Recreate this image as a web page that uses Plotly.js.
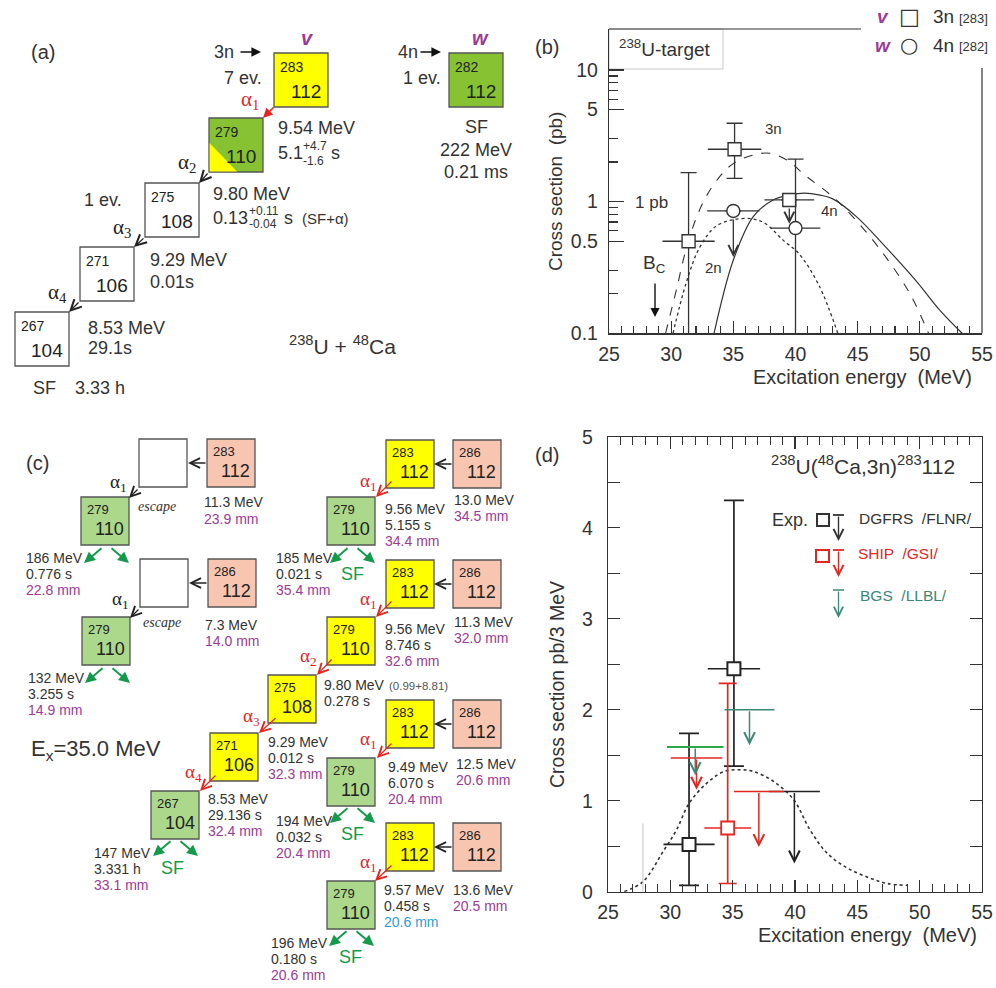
<!DOCTYPE html>
<html><head><meta charset="utf-8">
<script src="https://cdn.plot.ly/plotly-3.0.1.min.js"></script>
<style>html,body{margin:0;padding:0;background:#fff}#plot{width:996px;height:988px}</style>
</head><body><div id="plot"></div>
<script>
// ================= DATA =================
// ---- Panel (b): 238U + 48Ca excitation functions (cross section, pb) ----
const bTickVals = [0.1, 0.5, 1, 5, 10];
const bTickText = ['0.1', '0.5', '1', '5', '10'];
const bMinorVals = [0.2, 0.3, 0.6, 0.7, 0.8, 0.9, 2, 3, 6, 7, 8, 9];
// 3n channel [283] (squares)
const b3nEx = [31.4, 35.1, 39.5];
const b3nSig = [0.50, 2.50, 1.03];
const b3nExErr = [2.1, 2.15, 2.0];
const b3nSigUp = [1.16, 1.44, 0];
const b3nSigDown = [0.47, 1.00, 0];
// 4n channel [282] (circles)
const b4nEx = [35.0, 40.0];
const b4nSig = [0.85, 0.63];
const b4nExErr = [2.1, 2.0];
const b4nSigUp = [0, 1.47];
const b4nSigDown = [0, 0.60];
// upper-limit arrows in (b)
const bLimEx = [35.0, 39.5];
const bLimFrom = [0.85, 1.03];
const bLimTo = [0.38, 0.68];
// Coulomb barrier marker
const bBcEx = [28.7];
const bBcFrom = [0.245];
const bBcTo = [0.133];
// calculated excitation functions
const bCalc2nEx  = [30.15, 31.2, 32.3, 33.6, 35.0, 36.5, 37.6, 39.0, 40.3, 41.9, 43.4];
const bCalc2nSig = [0.10, 0.24, 0.45, 0.65, 0.73, 0.74, 0.68, 0.51, 0.40, 0.23, 0.10];
const bCalc3nEx  = [29.55, 30.4, 31.4, 32.6, 33.9, 35.05, 36.6, 37.9, 39.3, 40.9, 43.0, 44.6, 47.0, 49.2, 50.7];
const bCalc3nSig = [0.10, 0.21, 0.51, 1.00, 1.55, 1.96, 2.26, 2.33, 2.07, 1.55, 1.09, 0.77, 0.41, 0.20, 0.10];
const bCalc4nEx  = [33.45, 35.0, 36.6, 38.2, 39.5, 40.7, 42.0, 43.0, 44.9, 47.0, 49.7, 51.6, 53.4];
const bCalc4nSig = [0.10, 0.36, 0.77, 1.03, 1.12, 1.16, 1.12, 1.05, 0.77, 0.48, 0.25, 0.15, 0.10];

// ---- Panel (d): 238U(48Ca,3n)283112, pb / 3 MeV ----
const dDgfrsEx = [31.5, 35.1];
const dDgfrsSig = [0.52, 2.45];
const dDgfrsExErr = [2.05, 2.1];
const dDgfrsSigUp = [1.22, 1.85];
const dDgfrsSigDown = [0.45, 1.07];
const dDgfrsLimEx = [39.95];
const dDgfrsLimSig = [1.10];
const dDgfrsLimExErr = [2.05];
const dDgfrsLimTo = [0.31];
const dShipEx = [34.6];
const dShipSig = [0.70];
const dShipExErr = [1.87];
const dShipSigUp = [1.59];
const dShipSigDown = [0.61];
const dShipLimEx = [32.1, 37.1];
const dShipLimSig = [1.47, 1.10];
const dShipLimExErr = [2.07, 2.0];
const dShipLimTo = [1.12, 0.49];
const dBgsLimEx = [32.0, 36.35];
const dBgsLimSig = [1.59, 2.0];
const dBgsLimExErr = [2.27, 2.0];
const dBgsLimTo = [1.28, 1.61];
const dCalcEx  = [26.3, 27.8, 29.5, 30.5, 31.5, 32.9, 34.3, 35.6, 36.7, 38.3, 39.9, 41.2, 42.6, 44.2, 46.0, 47.4, 49.0];
const dCalcSig = [0.0, 0.11, 0.46, 0.68, 0.97, 1.19, 1.32, 1.34, 1.32, 1.21, 1.01, 0.68, 0.42, 0.26, 0.15, 0.09, 0.07];
const dGreyMarkEx = [27.8];
const dGreyMarkTop = [0.75];

// ---- Panel (a) decay chain text ----
const aMass = ['283', '279', '275', '271', '267', '282'];
const aZ = ['112', '110', '108', '106', '104', '112'];
const aEnergy = ['9.54 MeV', '9.80 MeV', '9.29 MeV', '8.53 MeV'];

// ---- Panel (c) decay chain text ----
const cEnergy = ['9.56 MeV', '9.56 MeV', '9.80 MeV', '9.29 MeV', '8.53 MeV', '9.49 MeV', '9.57 MeV'];
const cTime = ['5.155 s', '8.746 s', '0.278 s', '0.012 s', '29.136 s', '6.070 s', '0.458 s'];
const cRange = ['34.4 mm', '32.6 mm', '', '32.3 mm', '32.4 mm', '20.4 mm', '20.6 mm'];
const cEvrEnergy = ['11.3 MeV', '7.3 MeV', '13.0 MeV', '11.3 MeV', '12.5 MeV', '13.6 MeV'];
const cEvrRange = ['23.9 mm', '14.0 mm', '34.5 mm', '32.0 mm', '20.6 mm', '20.5 mm'];
const cSfEnergy = ['186 MeV', '132 MeV', '185 MeV', '147 MeV', '194 MeV', '196 MeV'];
const cSfTime = ['0.776 s', '3.255 s', '0.021 s', '3.331 h', '0.032 s', '0.180 s'];
const cSfRange = ['22.8 mm', '14.9 mm', '35.4 mm', '33.1 mm', '20.4 mm', '20.6 mm'];

// ================= STYLE =================
const FONT = 'Liberation Sans, Arial, sans-serif';
const SERIF = 'Liberation Serif, Times New Roman, serif';
const INK = '#333333';
const PURPLE = '#9c3a98';
const RED = '#e3261f';
const GARROW = '#149a4a';
const TEAL = '#3b8878';
const BGSGREEN = '#2ea84a';
const BLUE = '#2a9de0';
const YEL = '#ffff00';
const GRN_A = '#86c232';
const GRN_C = '#acd88c';
const PINK = '#f8c6b0';
const TA = 18;   // panel (a) text size
const TC = 14;   // panel (c) text size

const W = 996, H = 988;
const px = x => x / W, py = y => 1 - y / H;
const ann = [], shp = [];

function txt(x, y, t, size, opt) {
  const o = Object.assign({xref: 'paper', yref: 'paper', x: px(x), y: py(y), text: t, showarrow: false,
    xanchor: 'left', yanchor: 'middle', borderpad: 0,
    font: {family: FONT, size: size || 13, color: INK}}, opt || {});
  if (opt && opt.color) { o.font.color = opt.color; delete o.color; }
  if (opt && opt.family) { o.font.family = opt.family; delete o.family; }
  ann.push(o);
}
function arrow(x1, y1, x2, y2, color, head, size, width) {
  ann.push({xref: 'paper', yref: 'paper', x: px(x2), y: py(y2), ax: x1 - x2, ay: y1 - y2,
    text: '', showarrow: true, arrowhead: head, arrowsize: size, arrowwidth: width,
    arrowcolor: color, standoff: 0});
}
function rect(x0, y0, x1, y1, fill, line, lw) {
  shp.push({type: 'rect', xref: 'paper', yref: 'paper', x0: px(x0), x1: px(x1), y0: py(y1), y1: py(y0),
    fillcolor: fill, line: {color: line, width: lw}, layer: 'below'});
}
function line(x0, y0, x1, y1, color, w) {
  shp.push({type: 'line', xref: 'paper', yref: 'paper', x0: px(x0), x1: px(x1), y0: py(y0), y1: py(y1),
    line: {color: color, width: w}});
}
function nuclide(x, y, s, fill, mass, z, mSize, zSize, mDy, zDy) {
  rect(x, y, x + s, y + s, fill, '#555', 1.3);
  if (mass) txt(x + 5, y + s * mDy, mass, mSize, {color: '#222'});
  if (z) txt(x + s * 0.6, y + s * zDy, z, zSize, {xanchor: 'center', color: '#222'});
}
const nucA = (x, y, fill, m, z) => nuclide(x, y, 54, fill, m, z, 14, 19, 0.26, 0.72);
const nucC = (x, y, fill, m, z) => nuclide(x, y, 48, fill, m, z, 13, 18, 0.25, 0.66);
const alpha = (x, y, i, color, s) => txt(x, y, 'α<sub>' + i + '</sub>', s || 21, {xanchor: 'center', color: color, family: SERIF});

// ================= PANEL (a) =================
txt(43, 52, '(a)', 20, {xanchor: 'center'});
txt(213, 52, '3n', TA); arrow(239, 52, 261, 52, '#111', 2, 1.2, 1.6);
txt(243, 78, '7 ev.', TA, {xanchor: 'center'});
txt(307, 38, '<b><i>v</i></b>', 20, {xanchor: 'center', color: PURPLE});
nucA(274, 53, YEL, aMass[0], aZ[0]);
alpha(250, 100, 1, RED); arrow(275, 106, 263, 118, RED, 2, 1.2, 1.6);
// 279/110 box with yellow corner
rect(209, 118, 263, 172, GRN_A, '#555', 1.3);
shp.push({type: 'path', xref: 'paper', yref: 'paper', layer: 'below',
  path: `M ${px(209.6)} ${py(143)} L ${px(209.6)} ${py(171.4)} L ${px(237)} ${py(171.4)} Z`,
  fillcolor: YEL, line: {width: 0}});
txt(214, 132, aMass[1], 14, {color: '#222'});
txt(241, 157, aZ[1], 19, {xanchor: 'center', color: '#222'});
txt(277, 128, aEnergy[0], TA);
txt(277, 153, '5.1', TA); txt(302, 146, '+4.7', 12); txt(302, 161, '-1.6', 12); txt(330, 153, 's', TA);
alpha(187, 163, 2, '#222'); arrow(209, 172, 199, 183, '#222', 5, 1.6, 1.3);
nucA(145, 183, '#ffffff', aMass[2], aZ[2]);
txt(103, 200, '1 ev.', TA, {xanchor: 'center'});
txt(212, 194, aEnergy[1], TA);
txt(212, 218, '0.13', TA); txt(248, 211, '+0.11', 12); txt(248, 224, '-0.04', 12);
txt(283, 218, 's', TA); txt(301, 218, '(SF+α)', 15);
alpha(122, 228, 3, '#222'); arrow(145, 237, 134, 247, '#222', 5, 1.6, 1.3);
nucA(80, 247, '#ffffff', aMass[3], aZ[3]);
txt(149, 260, aEnergy[2], TA); txt(149, 282, '0.01s', TA);
alpha(57, 293, 4, '#222'); arrow(80, 301, 69, 312, '#222', 5, 1.6, 1.3);
nucA(15, 312, '#ffffff', aMass[4], aZ[4]);
txt(87, 328, aEnergy[3], TA); txt(87, 348, '29.1s', TA);
txt(32, 388, 'SF', TA); txt(74, 388, '3.33 h', TA);
txt(342, 345, '<sup>238</sup>U + <sup>48</sup>Ca', 21, {xanchor: 'center'});
txt(397, 52, '4n', TA); arrow(419, 52, 441, 52, '#111', 2, 1.2, 1.6);
txt(422, 78, '1 ev.', TA, {xanchor: 'center'});
txt(480, 38, '<b><i>w</i></b>', 20, {xanchor: 'center', color: PURPLE});
nucA(449, 53, GRN_A, aMass[5], aZ[5]);
txt(476, 127, 'SF', TA, {xanchor: 'center'});
txt(476, 150, '222 MeV', TA, {xanchor: 'center'});
txt(476, 172, '0.21 ms', TA, {xanchor: 'center'});

// ================= PANEL (c) =================
txt(37, 463, '(c)', 20, {xanchor: 'center'});
function sfArrows(cx, y, color) {
  arrow(cx - 3, y, cx - 22, y + 16, color, 2, 1.1, 2);
  arrow(cx + 4, y, cx + 23, y + 16, color, 2, 1.1, 2);
}
function three(x, y, a, b, c, cColor) {
  txt(x, y, a, TC); txt(x, y + 16, b, TC);
  if (c) txt(x, y + 32, c, TC, {color: cColor || PURPLE});
}
// left escape chains
nucC(139, 439, '#ffffff', '', '');
nucC(207, 439, PINK, '283', '112');
arrow(207, 463, 188, 463, '#222', 5, 1.5, 1.3);
alpha(118, 483, 1, '#222', 19); arrow(139, 488, 129, 498, '#222', 5, 1.5, 1.3);
nucC(81, 497, GRN_C, '279', '110');
txt(157, 506, '<i>escape</i>', 14, {xanchor: 'center', family: SERIF});
txt(203, 502, cEvrEnergy[0], TC); txt(203, 519, cEvrRange[0], TC, {color: PURPLE});
sfArrows(106, 547, GARROW);
three(25, 558, cSfEnergy[0], cSfTime[0], cSfRange[0]);

nucC(140, 559, '#ffffff', '', '');
nucC(208, 559, PINK, '286', '112');
arrow(208, 583, 189, 583, '#222', 5, 1.5, 1.3);
alpha(120, 600, 1, '#222', 19); arrow(140, 608, 130, 618, '#222', 5, 1.5, 1.3);
nucC(82, 617, GRN_C, '279', '110');
txt(162, 622, '<i>escape</i>', 14, {xanchor: 'center', family: SERIF});
txt(204, 625, cEvrEnergy[1], TC); txt(204, 641, cEvrRange[1], TC, {color: PURPLE});
sfArrows(107, 667, GARROW);
three(27, 678, cSfEnergy[1], cSfTime[1], cSfRange[1]);

txt(30, 750, 'E<sub>x</sub>=35.0 MeV', 22);

// main chain 1
nucC(386, 440, YEL, '283', '112');
nucC(453, 440, PINK, '286', '112');
arrow(453, 464, 434, 464, '#222', 5, 1.5, 1.3);
txt(453, 500, cEvrEnergy[2], TC); txt(453, 516, cEvrRange[2], TC, {color: PURPLE});
alpha(368, 482, 1, RED, 19); arrow(393, 480, 376, 497, RED, 5, 1.5, 1.3);
nucC(327, 497, GRN_C, '279', '110');
three(384, 509, cEnergy[0], cTime[0], cRange[0]);
sfArrows(352, 547, GARROW);
txt(352, 574, 'SF', 18, {xanchor: 'center', color: GARROW});
three(275, 558, cSfEnergy[2], cSfTime[2], cSfRange[2]);

// main chain 2 (full chain)
nucC(386, 560, YEL, '283', '112');
nucC(453, 560, PINK, '286', '112');
arrow(453, 584, 434, 584, '#222', 5, 1.5, 1.3);
txt(453, 622, cEvrEnergy[3], TC); txt(453, 638, cEvrRange[3], TC, {color: PURPLE});
alpha(368, 600, 1, RED, 19); arrow(393, 600, 376, 617, RED, 5, 1.5, 1.3);
nucC(327, 617, YEL, '279', '110');
three(384, 629, cEnergy[1], cTime[1], cRange[1]);
alpha(308, 657, 2, RED, 19); arrow(333, 658, 317, 675, RED, 5, 1.5, 1.3);
nucC(268, 675, YEL, '275', '108');
txt(323, 685, cEnergy[2], TC); txt(388, 686, '(0.99+8.81)', 11.5, {color: '#555'});
txt(323, 701, cTime[2], TC);
alpha(252, 717, 3, RED, 19); arrow(277, 717, 259, 733, RED, 5, 1.5, 1.3);
nucC(210, 733, YEL, '271', '106');
three(267, 742, cEnergy[3], cTime[3], cRange[3]);
alpha(193, 773, 4, RED, 19); arrow(217, 774, 200, 791, RED, 5, 1.5, 1.3);
nucC(151, 791, GRN_C, '267', '104');
three(207, 799, cEnergy[4], cTime[4], cRange[4]);
sfArrows(175, 840, GARROW);
txt(172, 868, 'SF', 18, {xanchor: 'center', color: GARROW});
three(93, 853, cSfEnergy[3], cSfTime[3], cSfRange[3]);

// main chain 3
nucC(386, 700, YEL, '283', '112');
nucC(453, 700, PINK, '286', '112');
arrow(453, 724, 434, 724, '#222', 5, 1.5, 1.3);
txt(455, 764, cEvrEnergy[4], TC); txt(455, 780, cEvrRange[4], TC, {color: PURPLE});
alpha(368, 740, 1, RED, 19); arrow(393, 742, 377, 758, RED, 5, 1.5, 1.3);
nucC(327, 758, GRN_C, '279', '110');
three(387, 767, cEnergy[5], cTime[5], cRange[5]);
sfArrows(352, 807, GARROW);
txt(352, 834, 'SF', 18, {xanchor: 'center', color: GARROW});
three(275, 821, cSfEnergy[4], cSfTime[4], cSfRange[4]);

// main chain 4
nucC(386, 823, YEL, '283', '112');
nucC(453, 823, PINK, '286', '112');
arrow(453, 847, 434, 847, '#222', 5, 1.5, 1.3);
txt(452, 890, cEvrEnergy[5], TC); txt(452, 906, cEvrRange[5], TC, {color: PURPLE});
alpha(368, 863, 1, RED, 19); arrow(393, 864, 375, 881, RED, 5, 1.5, 1.3);
nucC(327, 881, GRN_C, '279', '110');
three(383, 890, cEnergy[6], cTime[6], cRange[6], BLUE);
sfArrows(351, 930, GARROW);
txt(350, 957, 'SF', 18, {xanchor: 'center', color: GARROW});
three(270, 943, cSfEnergy[5], cSfTime[5], cSfRange[5]);

// ================= PANEL (b) decorations =================
txt(547, 47, '(b)', 20, {xanchor: 'center'});
rect(609, 29, 723, 69, 'rgba(0,0,0,0)', '#c8c8c8', 1);
txt(618, 48, '<sup>238</sup>U-target', 19);
line(609, 29, 861, 29, INK, 1.2);
line(982, 68, 982, 333.3, INK, 1.2);
txt(883, 16, '<b><i>v</i></b>', 19, {xanchor: 'center', color: PURPLE});
txt(909, 16, '□', 22, {xanchor: 'center', family: 'DejaVu Sans'});
txt(932, 16, '3n', 19); txt(958, 18, '[283]', 13);
txt(883, 45, '<b><i>w</i></b>', 19, {xanchor: 'center', color: PURPLE});
txt(909, 45, '○', 21, {xanchor: 'center', family: 'DejaVu Sans'});
txt(932, 45, '4n', 19); txt(958, 47, '[282]', 13);
txt(773, 128, '3n', 15, {xanchor: 'center'});
txt(829, 210, '4n', 15, {xanchor: 'center'});
txt(713, 267, '2n', 15, {xanchor: 'center'});
txt(634, 202, '1 pb', 17);
txt(654, 264, 'B<sub>C</sub>', 19, {xanchor: 'center'});
txt(555, 192, 'Cross section  (pb)', 19, {xanchor: 'center', textangle: -90});
txt(862, 377, 'Excitation energy  (MeV)', 20, {xanchor: 'center'});

// arrows in (b) from data
bLimEx.forEach((e, i) => ann.push({xref: 'x', yref: 'y', axref: 'x', ayref: 'y', x: e, y: Math.log10(bLimTo[i]),
  ax: e, ay: Math.log10(bLimFrom[i]), text: '', showarrow: true, arrowhead: 5, arrowsize: 1.5, arrowwidth: 1.3,
  arrowcolor: INK, standoff: 0, startstandoff: 7}));
bBcEx.forEach((e, i) => ann.push({xref: 'x', yref: 'y', axref: 'x', ayref: 'y', x: e, y: Math.log10(bBcTo[i]),
  ax: e, ay: Math.log10(bBcFrom[i]), text: '', showarrow: true, arrowhead: 2, arrowsize: 1.3, arrowwidth: 1.4,
  arrowcolor: '#111', standoff: 0}));

// ================= PANEL (d) decorations =================
txt(547, 455, '(d)', 20, {xanchor: 'center'});
txt(863, 465, '<sup>238</sup>U(<sup>48</sup>Ca,3n)<sup>283</sup>112', 21, {xanchor: 'center'});
txt(557, 685, 'Cross section pb/3 MeV', 19.5, {xanchor: 'center', textangle: -90});
txt(867, 935, 'Excitation energy  (MeV)', 20, {xanchor: 'center'});
// legend
txt(790, 520, 'Exp.', 18, {xanchor: 'center'});
rect(817, 514, 829, 526, '#ffffff', INK, 2);
line(833, 515, 844, 515, INK, 1.8); arrow(838.5, 515, 838.5, 541, INK, 5, 1.4, 1.4);
txt(858, 518, 'DGFRS  /FLNR/', 15.5);
rect(816, 550, 829, 562, '#ffffff', RED, 2);
line(833, 550, 844, 550, RED, 1.8); arrow(838.5, 550, 838.5, 577, RED, 5, 1.4, 1.4);
txt(857, 553, 'SHIP  /GSI/', 15.5, {color: RED});
line(833, 590, 844, 590, TEAL, 1.5); arrow(838.5, 590, 838.5, 618, TEAL, 5, 1.4, 1.3);
txt(859, 595, 'BGS  /LLBL/', 15.5, {color: TEAL});

function dArrows(xs, from, to, color) {
  xs.forEach((e, i) => ann.push({xref: 'x2', yref: 'y2', axref: 'x2', ayref: 'y2', x: e, y: to[i], ax: e, ay: from[i],
    text: '', showarrow: true, arrowhead: 5, arrowsize: 1.4, arrowwidth: 1.5, arrowcolor: color, standoff: 0}));
}
dArrows(dDgfrsLimEx, dDgfrsLimSig, dDgfrsLimTo, '#222');
dArrows(dShipLimEx, dShipLimSig, dShipLimTo, RED);
dArrows(dBgsLimEx, dBgsLimSig, dBgsLimTo, TEAL);
dGreyMarkEx.forEach((e, i) => shp.push({type: 'line', xref: 'x2', yref: 'y2', x0: e, x1: e, y0: 0, y1: dGreyMarkTop[i],
  line: {color: '#c8c8c8', width: 1}}));

// ================= TRACES =================
const traces = [];
const lineTrace = (x, y, dash, xa, ya, w) => ({type: 'scatter', mode: 'lines', x: x, y: y, xaxis: xa, yaxis: ya,
  line: {color: INK, width: w, dash: dash, shape: 'spline', smoothing: 1}, hoverinfo: 'skip'});
traces.push(lineTrace(bCalc2nEx, bCalc2nSig, 'dot', 'x', 'y', 1.3));
traces.push(lineTrace(bCalc3nEx, bCalc3nSig, 'dash', 'x', 'y', 1.1));
traces.push(lineTrace(bCalc4nEx, bCalc4nSig, 'solid', 'x', 'y', 1.2));
const pts = (x, y, xe, yu, yd, sym, color, xa, ya, size, lw, cap, thick) => ({type: 'scatter', mode: 'markers',
  x: x, y: y, xaxis: xa, yaxis: ya,
  marker: {symbol: sym, size: size, color: '#ffffff', line: {color: color, width: lw}},
  error_x: {type: 'data', array: xe, symmetric: true, width: 0, color: color, thickness: thick},
  error_y: yu ? {type: 'data', array: yu, arrayminus: yd, symmetric: false, width: cap, color: color, thickness: thick} : {visible: false},
  hoverinfo: 'skip'});
traces.push(pts(b3nEx, b3nSig, b3nExErr, b3nSigUp, b3nSigDown, 'square', INK, 'x', 'y', 13, 1.4, 8, 1.3));
traces.push(pts(b4nEx, b4nSig, b4nExErr, b4nSigUp, b4nSigDown, 'circle', INK, 'x', 'y', 13, 1.4, 8, 1.3));

traces.push(lineTrace(dCalcEx, dCalcSig, 'dot', 'x2', 'y2', 1.6));
const lim = (x, y, xe, color, w) => ({type: 'scatter', mode: 'markers', x: x, y: y, xaxis: 'x2', yaxis: 'y2',
  marker: {size: 1, color: 'rgba(0,0,0,0)'},
  error_x: {type: 'data', array: xe, symmetric: true, width: 0, color: color, thickness: w}, hoverinfo: 'skip'});
traces.push(pts(dDgfrsEx, dDgfrsSig, dDgfrsExErr, dDgfrsSigUp, dDgfrsSigDown, 'square', '#222', 'x2', 'y2', 13, 2, 10, 1.7));
traces.push(lim(dDgfrsLimEx, dDgfrsLimSig, dDgfrsLimExErr, '#222', 1.5));
traces.push(lim(dShipLimEx, dShipLimSig, dShipLimExErr, RED, 1.5));
traces.push(pts(dShipEx, dShipSig, dShipExErr, dShipSigUp, dShipSigDown, 'square', RED, 'x2', 'y2', 13, 1.8, 9, 1.7));
traces.push(lim([dBgsLimEx[0]], [dBgsLimSig[0]], [dBgsLimExErr[0]], BGSGREEN, 1.8));
traces.push(lim([dBgsLimEx[1]], [dBgsLimSig[1]], [dBgsLimExErr[1]], TEAL, 1.5));

// ================= LAYOUT =================
const tickFont = {family: FONT, size: 19.5, color: INK};
const layout = {
  width: W, height: H, margin: {l: 0, r: 0, t: 0, b: 0}, showlegend: false,
  paper_bgcolor: '#ffffff', plot_bgcolor: 'rgba(0,0,0,0)',
  xaxis: {domain: [609 / W, 982 / W], range: [25, 55], anchor: 'y', showgrid: false, zeroline: false,
    showline: true, linecolor: INK, linewidth: 1.2, ticks: 'inside', ticklen: 12, tickwidth: 1.2, tickcolor: INK,
    tick0: 25, dtick: 5, tickfont: tickFont, ticklabelstandoff: 3,
    minor: {ticks: 'inside', ticklen: 7, dtick: 1, tickcolor: INK, tickwidth: 1.1, showgrid: false}},
  yaxis: {domain: [1 - 333.3 / H, 1 - 29.3 / H], type: 'log', range: [-1, 1.309], anchor: 'x', showgrid: false,
    zeroline: false, showline: true, linecolor: INK, linewidth: 1.2, ticks: 'inside', ticklen: 15, tickwidth: 1.2,
    tickcolor: INK, tickmode: 'array', tickvals: bTickVals, ticktext: bTickText, tickfont: tickFont, ticklabelstandoff: 6,
    minor: {ticks: 'inside', ticklen: 9, tickmode: 'array', tickvals: bMinorVals, tickcolor: INK, tickwidth: 1.1, showgrid: false}},
  xaxis2: {domain: [608 / W, 982 / W], range: [25, 55], anchor: 'y2', showgrid: false, zeroline: false,
    showline: true, mirror: 'allticks', linecolor: INK, linewidth: 1.2, ticks: 'inside', ticklen: 12, tickwidth: 1.2,
    tickcolor: INK, tick0: 25, dtick: 5, tickfont: tickFont, ticklabelstandoff: 3,
    minor: {ticks: 'inside', ticklen: 8, dtick: 1, tickcolor: INK, tickwidth: 1.1, showgrid: false}},
  yaxis2: {domain: [1 - 891.7 / H, 1 - 436.7 / H], range: [0, 5], anchor: 'x2', showgrid: false, zeroline: false,
    showline: true, mirror: 'allticks', linecolor: INK, linewidth: 1.2, ticks: 'inside', ticklen: 12, tickwidth: 1.2,
    tickcolor: INK, dtick: 1, tickfont: tickFont, ticklabelstandoff: 10,
    minor: {ticks: 'inside', ticklen: 12, dtick: 0.5, tickcolor: INK, tickwidth: 1.1, showgrid: false}},
  annotations: ann, shapes: shp
};
Plotly.newPlot('plot', traces, layout, {staticPlot: true, displayModeBar: false});
</script></body></html>
